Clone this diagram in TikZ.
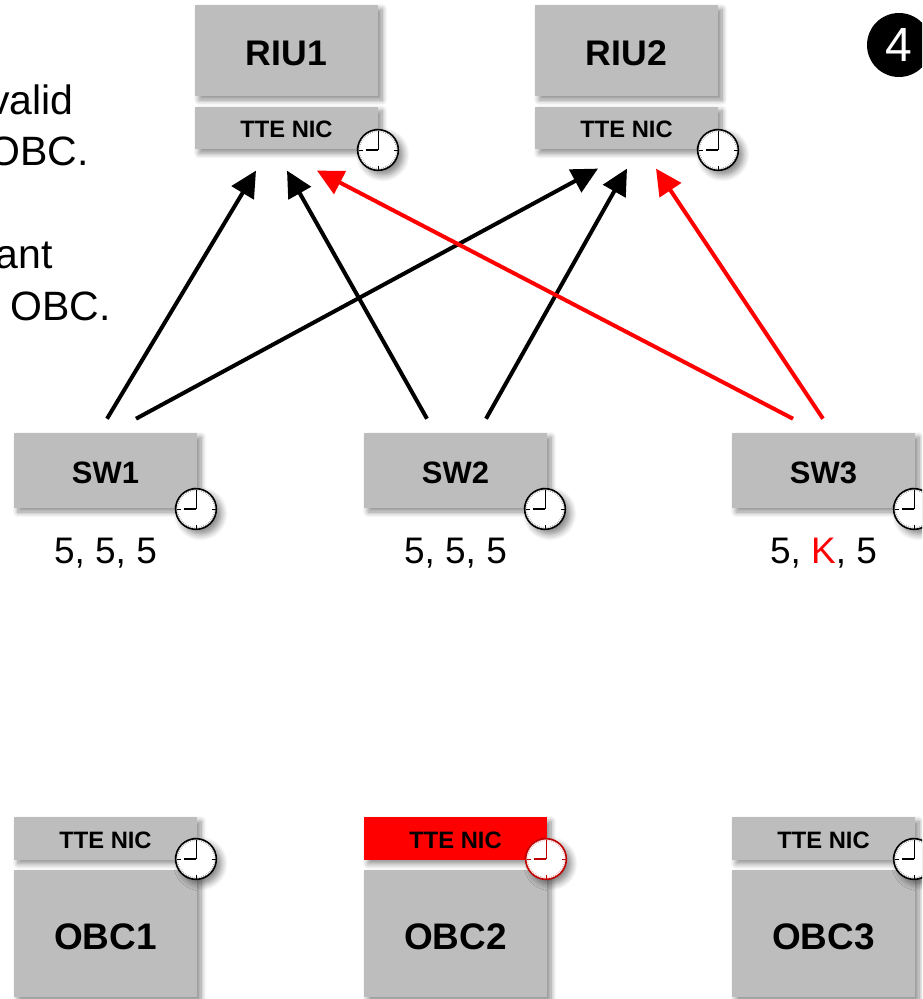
\documentclass[tikz,border=0pt]{standalone}
\usepackage{fontspec}
\setmainfont{Liberation Sans}
\usetikzlibrary{arrows.meta,calc,shadows.blur}
\definecolor{boxgray}{HTML}{BDBDBD}
\definecolor{alarm}{HTML}{FF0000}
\definecolor{clockred}{HTML}{C00000}
\tikzset{
  softshadow/.style={blur shadow={shadow xshift=3pt,shadow yshift=-3pt,shadow blur steps=8,shadow blur radius=4pt,shadow opacity=45}},
  clockshadow/.style={blur shadow={shadow xshift=3.5pt,shadow yshift=-3.5pt,shadow blur steps=8,shadow blur radius=5pt,shadow opacity=50}},
  panel/.style={fill=boxgray,inner sep=0pt,minimum width=137.25pt,softshadow,font=\bfseries},
  bigbox/.style={panel,text height=22.6pt,text depth=0pt,font=\fontsize{26.7pt}{30pt}\selectfont\bfseries},
  obcbox/.style={panel,text height=23.4pt,text depth=0pt,font=\fontsize{27.7pt}{30pt}\selectfont\bfseries},
  swbox/.style={panel,minimum height=56.25pt,text height=19.6pt,text depth=0pt,font=\fontsize{23.2pt}{26pt}\selectfont\bfseries},
  nicbox/.style={panel,minimum height=32pt,text height=14.7pt,text depth=0pt,font=\fontsize{17.8pt}{20pt}\selectfont\bfseries},
  vals/.style={font=\fontsize{27.7pt}{30pt}\selectfont,inner sep=0pt,anchor=base},
  note/.style={font=\fontsize{30.75pt}{33pt}\selectfont,inner sep=0pt,anchor=base east},
  link/.style={line width=3pt,-{Triangle[length=19.5pt,width=19pt]}},
  clockface/.style={circle,draw=#1,fill=white,line width=1.2pt,minimum size=30.5pt,inner sep=0pt,clockshadow},
  pics/clock/.style={code={
    \foreach \a in {0,6,...,354}{\draw[#1!55!white,line width=.3pt] (\a:18)--(\a:19.5);}
    \foreach \a in {0,90,180,270}{\draw[#1,line width=.5pt] (\a:15.5)--(\a:19.5);}
    \draw[#1,line width=.6pt] (0,0)--(0,-15.5);
    \draw[#1,line width=1.4pt] (0,0)--(-12,0);
  }}
}
\newcommand{\clk}[3][black]{%
  \node[clockface=#1] (#2) at (#3) {};
  \pic at (#3) {clock=#1};}
\begin{document}
\begin{tikzpicture}[x=0.75pt,y=-0.75pt]
\clip (0,0) rectangle (922,999);

% left notes
\node[note] (n1) at (74,114) {valid};
\node[note] (n2) at (89,165) {OBC.};
\node[note] (n3) at (53,268) {ant};
\node[note] (n4) at (111,320) {OBC.};

% step badge
\node[circle,fill=black,minimum size=48pt,inner sep=0pt,text=white,font=\fontsize{36pt}{38pt}\selectfont] (step4) at (899,45) {4};

% RIUs
\node[bigbox,minimum height=68.25pt] (RIU1) at (286.5,50.5) {RIU1};
\node[nicbox] (nicR1) at (286.5,128) {TTE NIC};
\node[bigbox,minimum height=68.25pt] (RIU2) at (626.5,50.5) {RIU2};
\node[nicbox] (nicR2) at (626.5,128) {TTE NIC};
\clk{cR1}{378,150}
\clk{cR2}{718,150}

% switches
\node[swbox] (SW1) at (105.5,470.5) {SW1};
\node[swbox] (SW2) at (455.5,470.5) {SW2};
\node[swbox] (SW3) at (823.5,470.5) {SW3};
\clk{cS1}{196,509}
\clk{cS2}{545,509}
\clk{cS3}{914,509}

\node[vals] (v1) at (105.5,563) {5, 5, 5};
\node[vals] (v2) at (455.5,563) {5, 5, 5};
\node[vals] (v3) at (823.5,563) {5, \textcolor{alarm}{K}, 5};

% OBCs
\foreach \nm/\cx in {1/105.5,2/455.5,3/823.5}{
  \node[obcbox,minimum height=95.25pt] (OBC\nm) at (\cx,933.5) {OBC\nm};
}
\node[nicbox] (nicO1) at (105.5,838.5) {TTE NIC};
\node[nicbox,fill=alarm] (nicO2) at (455.5,838.5) {TTE NIC};
\node[nicbox] (nicO3) at (823.5,838.5) {TTE NIC};
\clk{cO1}{196,859}
\clk[clockred]{cO2}{546,859}
\clk{cO3}{914,859}

% connector ends, tied to their nodes
\coordinate (s1a) at ($(SW1.north)+(1.5,-14)$);
\coordinate (s1b) at ($(SW1.north)+(30.5,-14)$);
\coordinate (s2a) at ($(SW2.north)+(-28.5,-14)$);
\coordinate (s2b) at ($(SW2.north)+(30.5,-14)$);
\coordinate (s3a) at ($(SW3.north)+(-30.5,-14)$);
\coordinate (s3b) at ($(SW3.north)+(-0.5,-14)$);
\coordinate (r1a) at ($(nicR1.south)+(-30.5,21)$);
\coordinate (r1b) at ($(nicR1.south)+(0.5,21)$);
\coordinate (r1c) at ($(nicR1.south)+(30.5,21)$);
\coordinate (r2a) at ($(nicR2.south)+(-28.5,19)$);
\coordinate (r2b) at ($(nicR2.south)+(0.5,19)$);
\coordinate (r2c) at ($(nicR2.south)+(29.5,19)$);

\draw[link] (s1a) -- (r1a);
\draw[link] (s1b) -- (r2a);
\draw[link] (s2a) -- (r1b);
\draw[link] (s2b) -- (r2b);
\draw[link,alarm] (s3a) -- (r1c);
\draw[link,alarm] (s3b) -- (r2c);
\end{tikzpicture}
\end{document}
